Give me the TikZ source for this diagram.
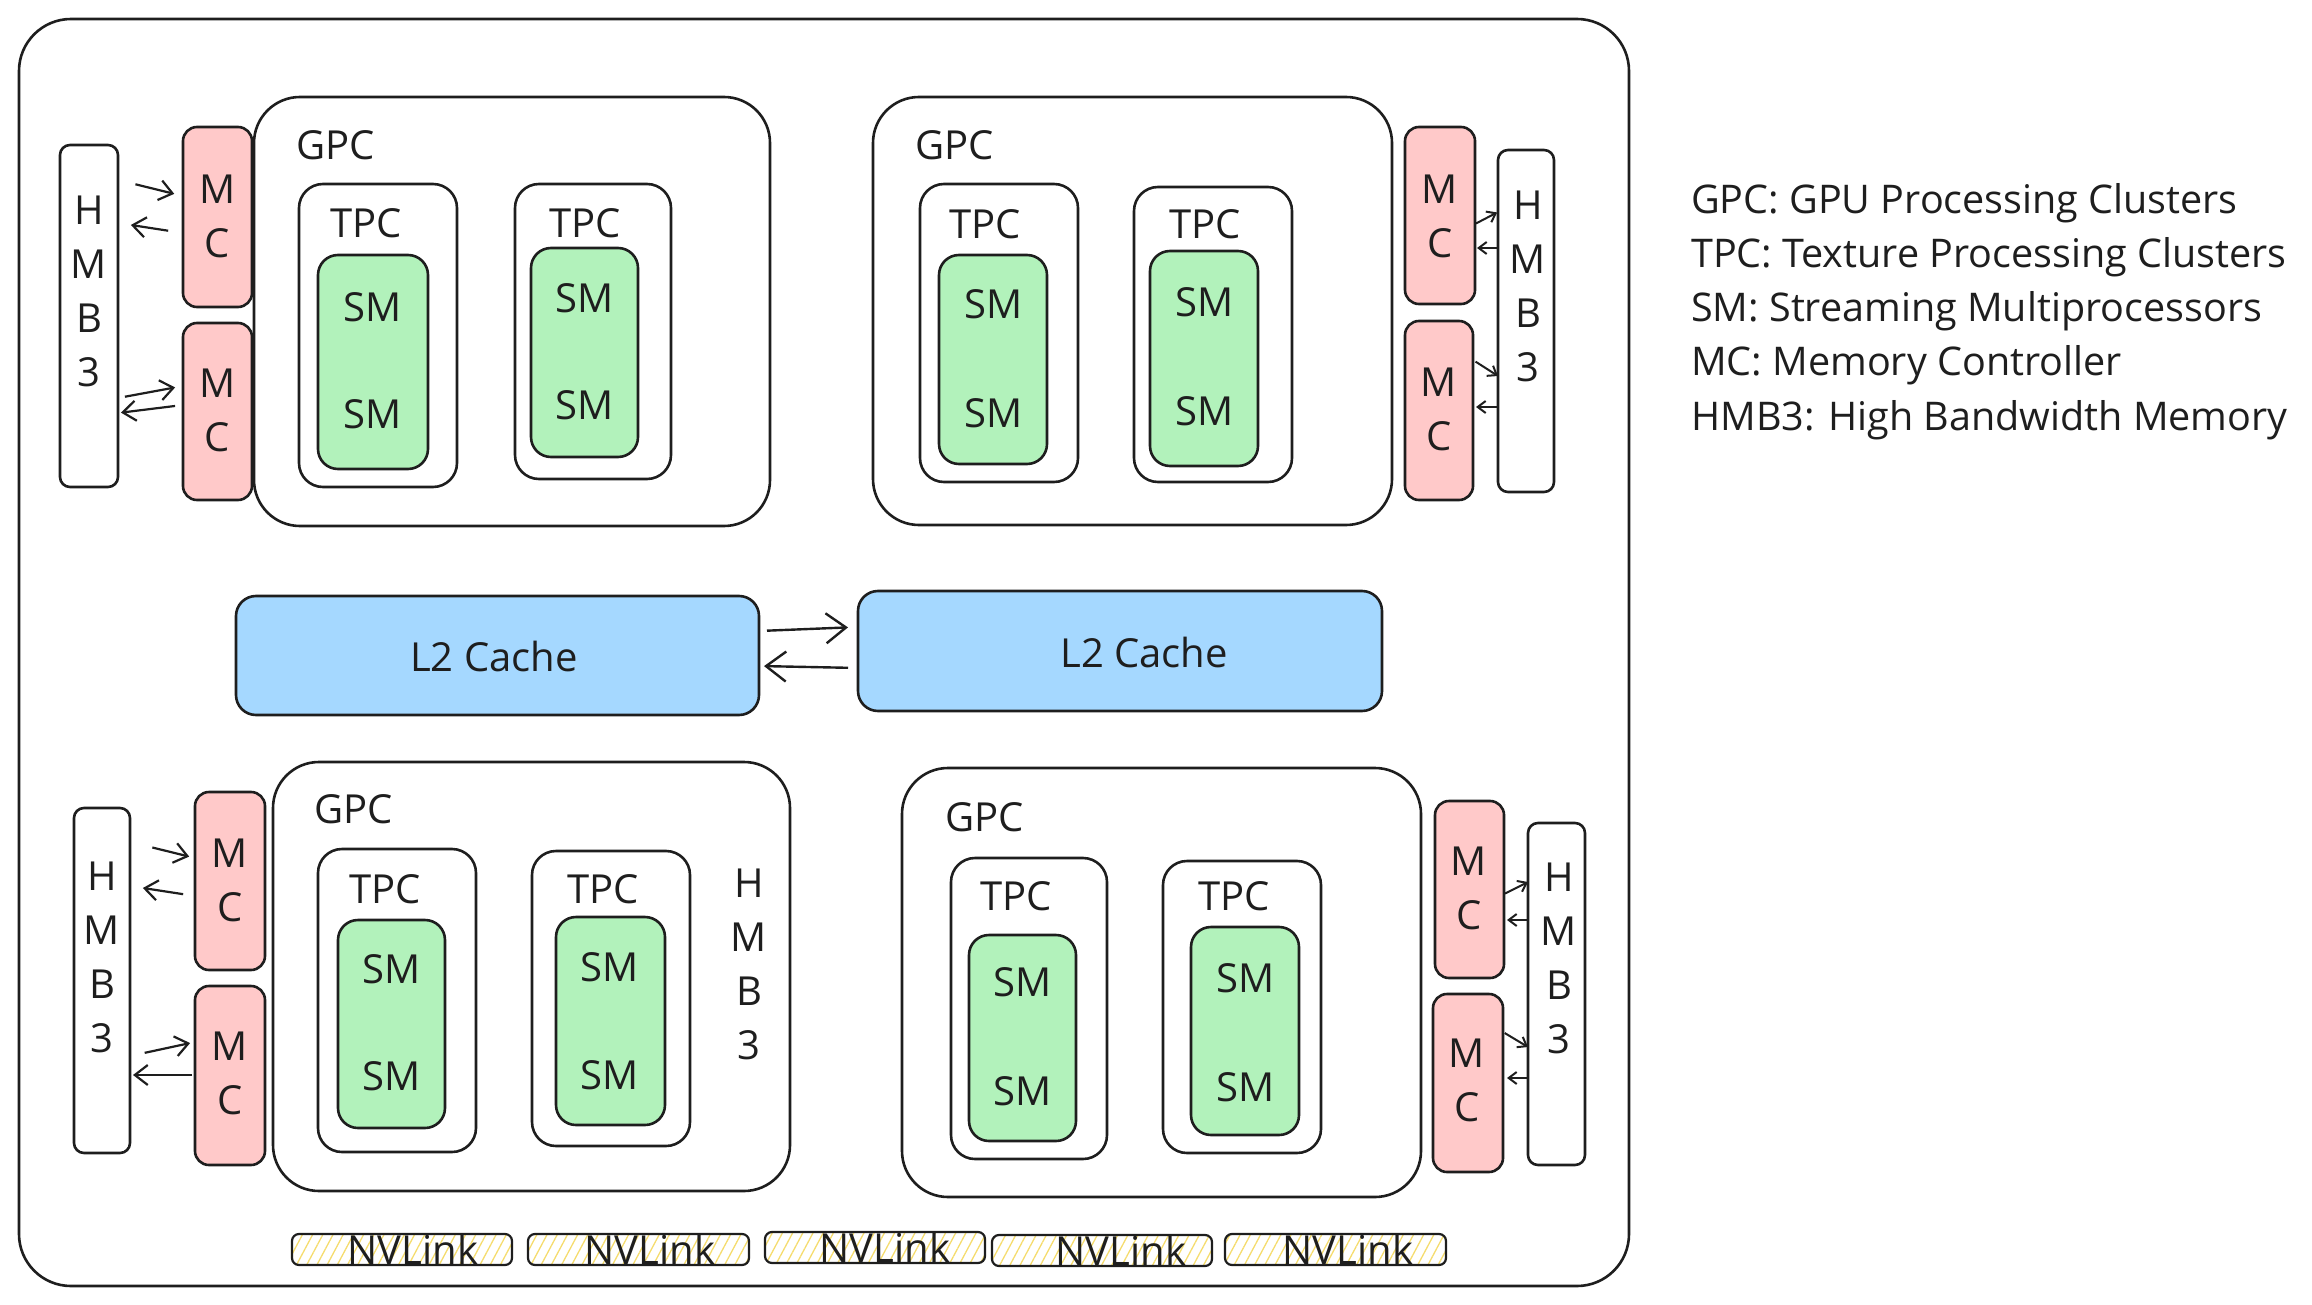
\documentclass[tikz,border=0pt]{standalone}
\usepackage{fontspec}
\setmainfont{Open Sans}
\usetikzlibrary{fit,arrows.meta,patterns.meta}
\definecolor{ink}{HTML}{1E1E1E}
\definecolor{mcred}{HTML}{FFC9C9}
\definecolor{smgreen}{HTML}{B2F2BB}
\definecolor{l2blue}{HTML}{A5D8FF}
\definecolor{nvyellow}{HTML}{F5DC6E}
\begin{document}
\begin{tikzpicture}[x=1pt,y=-1pt,
  every node/.style={text=ink, font=\fontsize{40pt}{54pt}\selectfont, inner sep=0pt},
  bx/.style={draw=ink, line width=2.6pt, inner sep=0pt, outer sep=0pt},
  framebox/.style={bx, rounded corners=52pt},
  gpcbox/.style={bx, rounded corners=46pt},
  tpcbox/.style={bx, rounded corners=24pt},
  smbox/.style={bx, fill=smgreen, rounded corners=20pt},
  mcbox/.style={bx, fill=mcred, rounded corners=14pt},
  hmbbox/.style={bx, rounded corners=10pt},
  l2box/.style={bx, fill=l2blue, rounded corners=20pt},
  nvbox/.style={bx, line width=2.2pt, rounded corners=7pt, pattern={Lines[angle=62,distance=9pt,line width=1.3pt]}, pattern color=nvyellow},
  stack/.style={align=center},
  legend/.style={anchor=base west, font=\fontsize{39.5pt}{50pt}\selectfont},
  arrBig/.style={draw=ink, line width=2.4pt, -{Straight Barb[length=20pt,width=30pt]}},
  arrMid/.style={draw=ink, line width=2.2pt, -{Straight Barb[length=13pt,width=20pt]}},
  arrSmall/.style={draw=ink, line width=2pt, -{Straight Barb[length=8pt,width=12pt]}}
]
\useasboundingbox (0,0) rectangle (2312,1305);
\node[framebox, fit={(19,19) (1629,1286)}] (chip) {};

% ---------- top left ----------
\node[gpcbox, fit={(254,97) (770,526)}] (gpcTL) {};
\node (gpcTLt) at (336,145) {GPC};
\node[tpcbox, fit={(299,184) (457,487)}] (tpcTLa) {};
\node (tpcTLat) at (366,223) {TPC};
\node[tpcbox, fit={(515,184) (671,479)}] (tpcTLb) {};
\node (tpcTLbt) at (585,223) {TPC};
\node[smbox, fit={(318,255) (428,469)}] (smTLa) {};
\node (smTLa1) at (373,307) {SM};
\node (smTLa2) at (373,414) {SM};
\node[smbox, fit={(531,248) (638,457)}] (smTLb) {};
\node (smTLb1) at (585,298) {SM};
\node (smTLb2) at (585,405) {SM};
\node[hmbbox, fit={(60,145) (118,487)}] (hmbTL) {};
\node[stack] (hmbTLt) at (89,291.5) {H\\M\\B\\3};
\node[mcbox, fit={(183,127) (252,307)}] (mcTLa) {};
\node[stack] (mcTLat) at (217.5,216) {M\\C};
\node[mcbox, fit={(183,323) (252,500)}] (mcTLb) {};
\node[stack] (mcTLbt) at (217.5,410.5) {M\\C};
\draw[arrMid, shorten <=18pt, shorten >=9pt] (hmbTL.east |- 0,180) -- (mcTLa.west |- 0,196);
\draw[arrMid, shorten <=15pt, shorten >=13pt] (mcTLa.west |- 0,233) -- (hmbTL.east |- 0,223);
\draw[arrMid, shorten <=7pt, shorten >=8pt] (hmbTL.east |- 0,398) -- (mcTLb.west |- 0,386);
\draw[arrMid, shorten <=8pt, shorten >=3pt] (mcTLb.west |- 0,405) -- (hmbTL.east |- 0,413);

% ---------- top right ----------
\node[gpcbox, fit={(873,97) (1392,525)}] (gpcTR) {};
\node (gpcTRt) at (955,145) {GPC};
\node[tpcbox, fit={(920,184) (1078,482)}] (tpcTRa) {};
\node (tpcTRat) at (985,224) {TPC};
\node[tpcbox, fit={(1134,187) (1292,482)}] (tpcTRb) {};
\node (tpcTRbt) at (1205,224) {TPC};
\node[smbox, fit={(939,255) (1047,464)}] (smTRa) {};
\node (smTRa1) at (994,304) {SM};
\node (smTRa2) at (994,413) {SM};
\node[smbox, fit={(1150,251) (1258,466)}] (smTRb) {};
\node (smTRb1) at (1205,302) {SM};
\node (smTRb2) at (1205,411) {SM};
\node[mcbox, fit={(1405,127) (1475,304)}] (mcTRa) {};
\node[stack] (mcTRat) at (1440,216) {M\\C};
\node[mcbox, fit={(1405,321) (1473,500)}] (mcTRb) {};
\node[stack] (mcTRbt) at (1439,409.5) {M\\C};
\node[hmbbox, fit={(1498,150) (1554,492)}] (hmbTR) {};
\node[stack] (hmbTRt) at (1528,286.5) {H\\M\\B\\3};
\draw[arrSmall, shorten <=1pt, shorten >=1pt] (mcTRa.east |- 0,224) -- (hmbTR.west |- 0,212);
\draw[arrSmall, shorten <=1pt, shorten >=2pt] (hmbTR.west |- 0,248) -- (mcTRa.east |- 0,248);
\draw[arrSmall, shorten <=3pt, shorten >=0pt] (mcTRb.east |- 0,360) -- (hmbTR.west |- 0,376);
\draw[arrSmall, shorten <=1pt, shorten >=3pt] (hmbTR.west |- 0,407) -- (mcTRb.east |- 0,407);

% ---------- L2 ----------
\node[l2box, fit={(236,596) (759,715)}] (l2a) {};
\node (l2at) at (494,656) {L2 Cache};
\node[l2box, fit={(858,591) (1382,711)}] (l2b) {};
\node (l2bt) at (1144,652) {L2 Cache};
\draw[arrBig, shorten <=8pt, shorten >=10pt] (l2a.east |- 0,631) -- (l2b.west |- 0,627);
\draw[arrBig, shorten <=10pt, shorten >=5pt] (l2b.west |- 0,668) -- (l2a.east |- 0,666);

% ---------- bottom left ----------
\node[gpcbox, fit={(273,762) (790,1191)}] (gpcBL) {};
\node (gpcBLt) at (354,809) {GPC};
\node[tpcbox, fit={(318,849) (476,1152)}] (tpcBLa) {};
\node (tpcBLat) at (385,889) {TPC};
\node[tpcbox, fit={(532,851) (690,1146)}] (tpcBLb) {};
\node (tpcBLbt) at (603,889) {TPC};
\node[smbox, fit={(338,920) (445,1128)}] (smBLa) {};
\node (smBLa1) at (392,969) {SM};
\node (smBLa2) at (392,1076) {SM};
\node[smbox, fit={(556,917) (665,1125)}] (smBLb) {};
\node (smBLb1) at (610,967) {SM};
\node (smBLb2) at (610,1075) {SM};
\node[stack] (hmbBLin) at (749,964) {H\\M\\B\\3};
\node[hmbbox, fit={(74,808) (130,1153)}] (hmbBL) {};
\node[stack] (hmbBLt) at (102,957) {H\\M\\B\\3};
\node[mcbox, fit={(195,792) (265,970)}] (mcBLa) {};
\node[stack] (mcBLat) at (230,880.5) {M\\C};
\node[mcbox, fit={(195,986) (265,1165)}] (mcBLb) {};
\node[stack] (mcBLbt) at (230,1073.5) {M\\C};
\draw[arrMid, shorten <=23pt, shorten >=6pt] (hmbBL.east |- 0,842) -- (mcBLa.west |- 0,858);
\draw[arrMid, shorten <=12pt, shorten >=13pt] (mcBLa.west |- 0,896) -- (hmbBL.east |- 0,886);
\draw[arrMid, shorten <=15pt, shorten >=5pt] (hmbBL.east |- 0,1056) -- (mcBLb.west |- 0,1042);
\draw[arrMid, shorten <=3pt, shorten >=3pt] (mcBLb.west |- 0,1075) -- (hmbBL.east |- 0,1075);

% ---------- bottom right ----------
\node[gpcbox, fit={(902,768) (1421,1197)}] (gpcBR) {};
\node (gpcBRt) at (985,817) {GPC};
\node[tpcbox, fit={(951,858) (1107,1159)}] (tpcBRa) {};
\node (tpcBRat) at (1016,896) {TPC};
\node[tpcbox, fit={(1163,861) (1321,1153)}] (tpcBRb) {};
\node (tpcBRbt) at (1234,896) {TPC};
\node[smbox, fit={(969,935) (1076,1141)}] (smBRa) {};
\node (smBRa1) at (1023,982) {SM};
\node (smBRa2) at (1023,1091) {SM};
\node[smbox, fit={(1191,927) (1299,1135)}] (smBRb) {};
\node (smBRb1) at (1246,978) {SM};
\node (smBRb2) at (1246,1087) {SM};
\node[mcbox, fit={(1435,801) (1504,978)}] (mcBRa) {};
\node[stack] (mcBRat) at (1469,888.5) {M\\C};
\node[mcbox, fit={(1433,994) (1503,1172)}] (mcBRb) {};
\node[stack] (mcBRbt) at (1467,1080.5) {M\\C};
\node[hmbbox, fit={(1528,823) (1585,1165)}] (hmbBR) {};
\node[stack] (hmbBRt) at (1559,958.5) {H\\M\\B\\3};
\draw[arrSmall, shorten <=1pt, shorten >=0pt] (mcBRa.east |- 0,894) -- (hmbBR.west |- 0,882);
\draw[arrSmall, shorten <=0pt, shorten >=3pt] (hmbBR.west |- 0,920) -- (mcBRa.east |- 0,920);
\draw[arrSmall, shorten <=2pt, shorten >=0pt] (mcBRb.east |- 0,1032) -- (hmbBR.west |- 0,1047);
\draw[arrSmall, shorten <=0pt, shorten >=4pt] (hmbBR.west |- 0,1078) -- (mcBRb.east |- 0,1078);

% ---------- NVLink ----------
\node[nvbox, fit={(292,1234) (512,1265)}] (nv1) {};
\node (nv1t) at (413,1249) {NVLink};
\node[nvbox, fit={(528,1234) (749,1265)}] (nv2) {};
\node (nv2t) at (650,1249) {NVLink};
\node[nvbox, fit={(765,1232) (985,1263)}] (nv3) {};
\node (nv3t) at (885,1247) {NVLink};
\node[nvbox, fit={(992,1235) (1212,1266)}] (nv4) {};
\node (nv4t) at (1121,1250) {NVLink};
\node[nvbox, fit={(1225,1234) (1446,1265)}] (nv5) {};
\node (nv5t) at (1348,1249) {NVLink};

% ---------- legend ----------
\node[legend] (lg1) at (1691,214) {GPC: GPU Processing Clusters};
\node[legend] (lg2) at (1691,268) {TPC: Texture Processing Clusters};
\node[legend] (lg3) at (1691,322) {SM: Streaming Multiprocessors};
\node[legend] (lg4) at (1691,375) {MC: Memory Controller};
\node[legend] (lg5) at (1691,430) {HMB3: High Bandwidth Memory};
\end{tikzpicture}
\end{document}
